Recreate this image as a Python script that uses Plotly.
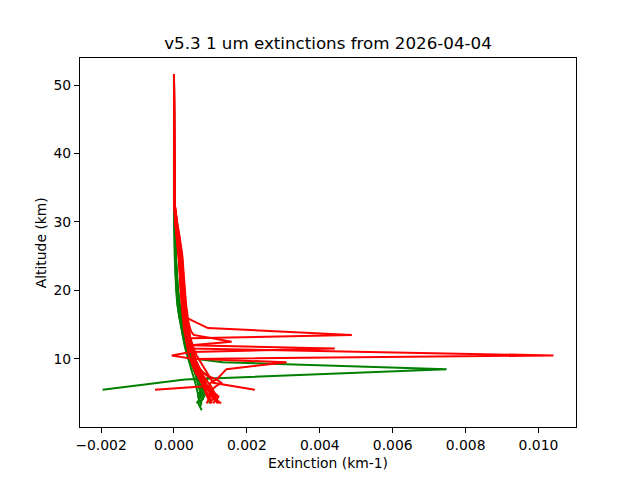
"""Extinction profiles (v5.3, 1 um) for 2026-04-04, redrawn with Plotly."""

import plotly.graph_objects as go

# altitude levels (km); a profile uses None where it has no sample at that level
ALT = [2.5, 3.0, 3.5, 4.0, 4.5, 5.0, 5.5, 6.0, 6.5, 7.0, 7.5, 8.0,
       8.5, 9.0, 9.5, 10.0, 10.5, 11.0, 11.5, 12.0, 12.5, 13.0, 13.5, 14.0,
       14.5, 15.0, 16.0, 17.0, 18.0, 20.0, 22.0, 25.0, 28.0, 30.0, 33.0, 51.5]

# extinction in units of 1e-4 km-1
G1 = [7.6, None, 6.7, 7.6, 8.3, 7.8, 7.4, 7.3, 7.0, 6.8, 6.5, 6.2,
      5.8, 5.4, 5.0, 4.6, 4.3, 4.0, 3.7, 3.4, 3.1, 2.9, 2.7, 2.5,
      2.3, 2.1, 1.8, 1.5, 1.2, 0.9, 0.6, 0.4, 0.2, 0.1, 0.0, 0.0]
G2 = [None, None, None, None, None, None, -19.6, None, None, 3.0, None, None,
      74.8, None, 13.4, 5.8, 5.1, 4.7, 4.3, 4.0, 3.7, 3.4, 3.1, 2.8,
      2.6, 2.4, 2.0, 1.7, 1.4, 1.0, 0.7, 0.5, 0.3, 0.2, 0.0, 0.0]
G3 = [None, None, 7.2, 7.7, 7.1, 7.4, 7.0, 6.8, 6.6, 6.3, 6.0, 5.7,
      5.4, 5.0, 4.6, 4.2, 3.9, 3.6, 3.3, 3.0, 2.8, 2.6, 2.4, 2.2,
      2.0, 1.8, 1.5, 1.2, 1.0, 0.7, 0.5, 0.3, 0.2, 0.1, 0.0, 0.0]
G4 = [None, None, 9.8, None, 9.3, 8.3, 8.1, 7.9, 7.7, 7.4, 7.1, 6.7,
      6.3, 5.9, 5.5, 5.1, 4.8, 4.4, 4.0, 3.7, 3.4, 3.1, 2.9, 2.7,
      2.5, 2.3, 2.0, 1.7, 1.4, 1.0, 0.7, 0.5, 0.3, 0.2, 0.1, 0.0]
G5 = [None, None, 6.2, 6.9, 6.6, 6.9, 7.8, 8.2, 7.9, 7.5, 7.1, 6.7,
      6.3, 5.9, 5.5, 5.2, 4.8, 4.5, 4.1, 3.8, 3.6, 3.3, 3.1, 2.9,
      2.7, 2.5, 2.1, 1.8, 1.5, 1.1, 0.8, 0.5, 0.3, 0.2, 0.1, 0.0]
G6 = [None, None, None, 8.0, 7.8, 7.5, 7.2, 7.5, 8.4, 9.0, 9.5, 8.0,
      6.9, 6.3, 5.8, 5.3, 4.9, 4.5, 4.2, 3.9, 3.7, 3.4, 3.2, 3.0,
      2.8, 2.6, 2.2, 1.9, 1.6, 1.1, 0.8, 0.5, 0.3, 0.2, 0.1, 0.0]
G7 = [None, 7.1, 7.5, 7.0, 6.7, 6.5, 6.3, 6.1, 5.9, 5.6, 5.3, 5.0,
      4.7, 4.4, 4.1, 3.8, 3.6, 3.3, 3.1, 2.9, 2.7, 2.5, 2.3, 2.1,
      1.9, 1.8, 1.5, 1.2, 0.9, 0.6, 0.4, 0.2, 0.1, 0.1, 0.0, 0.0]

R1 = [None, None, 8.9, 9.5, 9.1, 8.8, 8.5, 8.2, 7.8, 7.4, 7.0, 6.6,
      6.2, 5.8, 5.5, 5.2, 5.0, 4.8, 4.6, 4.4, 4.2, 4.8, 48.8, None,
      9.3, None, 3.5, 3.3, 3.1, 2.8, 2.5, 2.1, 1.3, 0.7, 0.1, 0.0]
R2 = [None, None, None, 11.6, 10.8, 10.2, 9.6, 9.0, 8.4, 7.9, 7.4, 7.0,
      6.6, 6.2, 5.9, 5.6, 5.3, 5.1, 4.9, 4.8, 15.8, None, 5.4, 4.7,
      4.4, 4.1, 3.8, 3.5, 3.3, 3.0, 2.7, 2.3, 1.5, 0.8, 0.1, 0.0]
R3 = [None, None, 10.4, 9.9, 9.5, 10.0, 9.4, 8.8, 8.3, 7.8, 7.3, 6.9,
      6.5, 6.1, 5.7, 5.4, 5.1, 4.8, 44.1, 5.0, 4.7, 4.4, 4.2, 4.0,
      3.8, 3.6, 3.3, 3.0, 2.8, 2.5, 2.2, 1.8, 1.1, 0.5, 0.1, 0.0]
R4 = [None, None, 12.0, 11.2, 10.7, 10.1, 9.5, 8.9, 8.4, 7.9, 7.5, 7.1,
      6.7, 6.3, 6.0, 5.6, 104.1, None, 4.8, 4.5, 4.3, 4.1, 3.9, 3.7,
      3.5, 3.3, 3.0, 2.8, 2.6, 2.3, 2.0, 1.6, 0.9, 0.4, 0.1, 0.0]
R5 = [None, None, 12.3, 11.8, 11.0, 10.6, 10.2, 9.6, 10.0, 11.7, None, None,
      14.4, None, 30.9, 5.8, 5.4, 5.1, 4.9, 4.7, 4.4, 4.2, 4.0, 3.8,
      3.6, 3.4, 3.1, 2.9, 2.7, 2.4, 2.1, 1.7, 1.0, 0.5, 0.1, 0.0]
R6 = [None, None, None, None, None, None, -5.2, 8.4, 8.5, 8.1, 7.6, 7.1,
      6.7, 6.3, 6.0, 5.6, 5.3, 5.0, 4.7, 4.5, 4.3, 4.1, 3.9, 3.7,
      3.5, 3.3, 3.0, 2.8, 2.6, 2.3, 2.0, 1.6, 0.9, 0.4, 0.1, 0.0]
R7 = [None, None, None, None, None, None, 22.2, None, 10.7, 10.2, 9.6, 9.0,
      8.4, 7.8, 7.2, 6.7, 6.2, 5.8, 5.4, 5.1, 4.8, 4.5, 4.3, 4.1,
      3.9, 3.7, 3.5, 3.2, 3.0, 2.7, 2.4, 2.0, 1.2, 0.6, 0.1, 0.0]
R8 = [None, None, None, 10.2, 9.6, 9.0, 8.6, 8.1, 7.6, 7.1, 6.6, 6.2,
      5.8, 5.4, 5.1, 5.0, -0.6, 4.6, 4.3, 4.1, 3.9, 3.7, 3.5, 3.3,
      3.1, 2.9, 2.6, 2.4, 2.2, 1.9, 1.7, 1.3, 0.7, 0.3, 0.1, 0.0]
R9 = [None, None, 12.9, 11.7, 12.2, 11.2, 10.6, 10.2, 9.4, 8.7, 8.1, 7.6,
      7.1, 6.6, 6.2, 5.9, 5.6, 5.3, 5.0, 4.8, 4.6, 4.4, 4.2, 4.0,
      3.8, 3.6, 3.4, 3.1, 2.9, 2.6, 2.3, 1.9, 1.2, 0.6, 0.1, 0.0]
R10 = [None, None, 10.8, 11.3, 10.3, 9.7, 10.4, 11.5, 13.0, 11.7, 9.2, 8.0,
       7.2, 6.6, 6.1, 5.7, 5.3, 5.0, 4.7, 4.5, 4.3, 4.1, 3.9, 3.7,
       3.5, 3.4, 3.2, 3.0, 2.8, 2.5, 2.2, 1.8, 1.1, 0.5, 0.1, 0.0]
R11 = [None, None, None, 9.8, 9.3, 10.0, 9.0, 8.3, 7.6, 7.0, 6.4, 5.9,
       5.5, 5.1, 4.7, 4.4, 4.1, 3.9, 3.7, 3.5, 3.3, 3.1, 2.9, 2.8,
       2.7, 2.6, 2.4, 2.2, 2.0, 1.8, 1.6, 1.3, 0.7, 0.3, 0.0, 0.0]
R12 = [None, None, 9.8, 10.5, 11.6, 10.7, 9.9, 9.2, 8.6, 8.2, 7.7, 7.3,
       6.8, 6.4, 6.0, 5.7, 5.4, 5.2, 5.0, 4.8, 4.6, 4.4, 4.2, 4.0,
       3.8, 3.7, 3.5, 3.3, 3.1, 2.9, 2.6, 2.2, 1.4, 0.7, 0.1, 0.0]

GREEN = [G1, G2, G3, G4, G5, G6, G7]
RED = [R1, R2, R3, R4, R5, R6, R7, R8, R9, R10, R11, R12]

X_TICKS = [-0.002, 0.0, 0.002, 0.004, 0.006, 0.008, 0.010]
X_TICK_TEXT = ["\u22120.002", "0.000", "0.002", "0.004", "0.006", "0.008", "0.010"]
Y_TICKS = [10, 20, 30, 40, 50]

FONT = "DejaVu Sans"

# the page body adds 8px around the figure, so the margins absorb it
PAGE_OFFSET = 8


def scaled(profile):
    return [None if v is None else v * 1e-4 for v in profile]


def padded(lo, hi, frac=0.05):
    span = hi - lo
    return [lo - frac * span, hi + frac * span]


fig = go.Figure()
for color, group in (("green", GREEN), ("red", RED)):
    for prof in group:
        fig.add_trace(
            go.Scatter(
                x=scaled(prof),
                y=ALT,
                mode="lines",
                line=dict(color=color, width=2),
                connectgaps=True,
                showlegend=False,
                hoverinfo="skip",
            )
        )

all_x = [v * 1e-4 for p in GREEN + RED for v in p if v is not None]
used_alt = [a for p in GREEN + RED for a, v in zip(ALT, p) if v is not None]

axis_common = dict(
    showline=True,
    mirror=True,
    linecolor="black",
    linewidth=1,
    ticks="outside",
    ticklen=5,
    tickwidth=1,
    tickcolor="black",
    showgrid=False,
    zeroline=False,
    tickfont=dict(family=FONT, size=13.9, color="black"),
)

fig.update_xaxes(
    range=padded(min(all_x), max(all_x)),
    tickvals=X_TICKS,
    ticktext=X_TICK_TEXT,
    **axis_common,
)
fig.update_yaxes(
    range=padded(min(used_alt), max(used_alt)),
    tickvals=Y_TICKS,
    **axis_common,
)

fig.update_layout(
    width=640,
    height=480,
    margin=dict(
        l=80 - PAGE_OFFSET,
        r=64 + PAGE_OFFSET,
        t=58 - PAGE_OFFSET,
        b=53 + PAGE_OFFSET,
        autoexpand=False,
    ),
    paper_bgcolor="white",
    plot_bgcolor="white",
    title=dict(
        text="v5.3 1 um extinctions from 2026-04-04",
        x=(328 - PAGE_OFFSET) / 640,
        xanchor="center",
        yref="container",
        y=1 - (43 - PAGE_OFFSET) / 480,
        yanchor="middle",
        font=dict(family=FONT, size=16.7, color="black"),
    ),
    annotations=[
        dict(
            text="Extinction (km-1)",
            xref="paper", yref="paper",
            x=0.5, y=-0.097,
            xanchor="center", yanchor="middle",
            showarrow=False,
            font=dict(family=FONT, size=13.9, color="black"),
        ),
        dict(
            text="Altitude (km)",
            xref="paper", yref="paper",
            x=-0.079, y=0.5,
            xanchor="center", yanchor="middle",
            textangle=-90,
            showarrow=False,
            font=dict(family=FONT, size=13.9, color="black"),
        ),
    ],
)

fig.write_html("out.html")
